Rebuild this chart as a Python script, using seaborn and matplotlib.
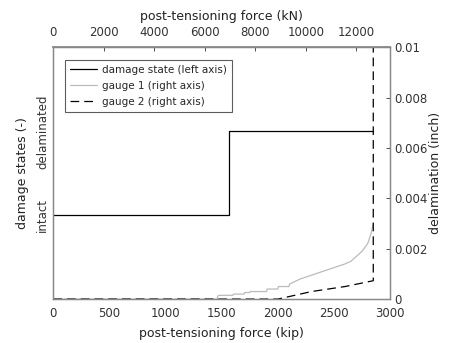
import numpy as np
import pandas as pd
import seaborn as sns
import matplotlib.pyplot as plt

# values
state_kip = [0, 1567, 1567, 2850]
state_val = [1, 1, 2, 2]

g1_kip = [0, 1460, 1465, 1480, 1600, 1605, 1700, 1705, 1750, 1755, 1900, 1905, 2000, 2005,
          2100, 2105, 2200, 2300, 2400, 2500, 2600, 2650, 2700, 2750, 2800, 2830, 2850]
g1_val = [0, 0, 0.00012, 0.00015, 0.00015, 0.0002, 0.0002, 0.00026, 0.00026, 0.0003, 0.0003,
          0.0004, 0.0004, 0.0005, 0.0005, 0.0006, 0.0008, 0.00095, 0.0011, 0.00125, 0.0014,
          0.0015, 0.0017, 0.0019, 0.0022, 0.0026, 0.003]

g2_kip = [0, 2000, 2300, 2600, 2850, 2850]
g2_val = [0, 0, 0.0003, 0.0005, 0.00073, 0.01]

KN_PER_KIP = 4.44822

sns.set_theme(style="white")
plt.rcParams['font.family'] = ['DejaVu Sans']
fig, ax = plt.subplots(figsize=(4.51, 3.43), dpi=100)
fig.subplots_adjust(left=0.118, right=0.865, top=0.862, bottom=0.128)

df_state = pd.DataFrame({'kip': state_kip, 'val': state_val})
sns.lineplot(data=df_state, x='kip', y='val', ax=ax, color='black', lw=0.9,
             sort=False, estimator=None, legend=False)
ax.set_xlim(0, 3000)
ax.set_ylim(0, 3)
ax.set_yticks([1, 2])
ax.set_yticklabels(['intact', 'delaminated'], rotation=90, va='center')
ax.set_xticks(range(0, 3001, 500))
ax.set_xlabel('post-tensioning force (kip)', fontsize=9, labelpad=5)
ax.set_ylabel('damage states (-)', fontsize=9, labelpad=5)

ax2 = ax.twinx()
df1 = pd.DataFrame({'kip': g1_kip, 'val': g1_val})
df2 = pd.DataFrame({'kip': g2_kip, 'val': g2_val})
sns.lineplot(data=df1, x='kip', y='val', ax=ax2, color='#bbbbbb', lw=0.9,
             sort=False, estimator=None, legend=False)
sns.lineplot(data=df2, x='kip', y='val', ax=ax2, color='black', lw=0.9,
             sort=False, estimator=None, legend=False)
ax2.lines[-1].set_linestyle((0, (7, 4)))
ax2.set_ylim(0, 0.01)
ax2.set_yticks([0, 0.002, 0.004, 0.006, 0.008, 0.01])
ax2.set_yticklabels(['0', '0.002', '0.004', '0.006', '0.008', '0.01'])
ax2.set_ylabel('delamination (inch)', fontsize=9, labelpad=1)

top = ax.secondary_xaxis('top', functions=(lambda x: x * KN_PER_KIP, lambda x: x / KN_PER_KIP))
top.set_xticks(range(0, 12001, 2000))
top.set_xlabel('post-tensioning force (kN)', fontsize=9, labelpad=4)

for a in (ax, ax2, top):
    a.tick_params(direction='in', length=3, width=0.6, labelsize=8.5, colors='#333333', pad=3)
    a.xaxis.label.set_color('#222222')
    a.yaxis.label.set_color('#222222')
ax.tick_params(axis='x', pad=6)
top.tick_params(axis='x', pad=6)
for a in (ax, ax2):
    for s in a.spines.values():
        s.set_color('#888888')
        s.set_linewidth(0.9)
top.spines['top'].set_color('#888888')
ax.tick_params(axis='y', length=0)
ax.tick_params(axis='x', top=False)

handles = [ax.lines[0], ax2.lines[0], ax2.lines[1]]
labels = ['damage state (left axis)', 'gauge 1 (right axis)', 'gauge 2 (right axis)']
leg = ax2.legend(handles, labels, loc='upper left', bbox_to_anchor=(0.02, 0.97),
                 fontsize=7.5, frameon=True, fancybox=False, borderpad=0.45,
                 labelspacing=0.58, handlelength=2.6, handletextpad=0.5)
leg.get_frame().set_edgecolor('#333333')
leg.get_frame().set_linewidth(0.8)

fig.savefig('out.png', dpi=100)
